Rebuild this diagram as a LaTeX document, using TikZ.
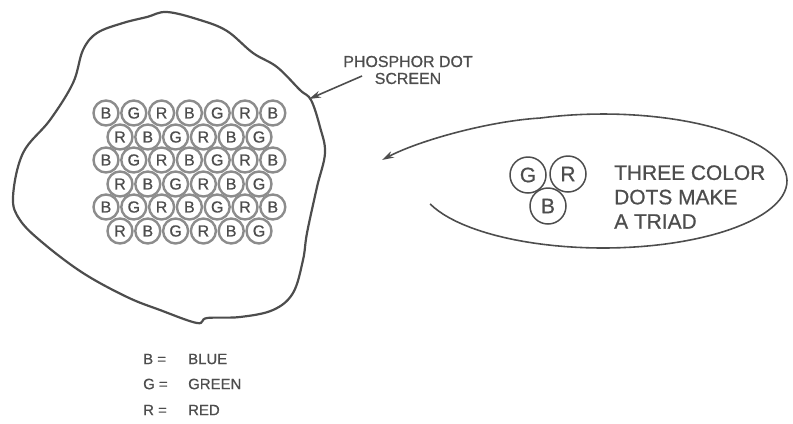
\documentclass[tikz,border=0pt]{standalone}
\usepackage{fontspec}
\setmainfont{Liberation Sans}[FakeBold=0.7]
\usetikzlibrary{arrows.meta}
\definecolor{ink}{HTML}{4D4D4D}
\definecolor{ring}{HTML}{8C8C8C}

\begin{document}
\begin{tikzpicture}[
  x=1bp, y=-1bp,
  text=ink,
  outline/.style={draw=ink, line width=2.2pt, line join=round},
  pointer/.style={-{Stealth[length=12bp,width=7bp]}, draw=ink, line width=1.6pt},
  dot/.style={
    circle,
    draw=ring,
    line width=2.4pt,
    fill=white,
    minimum size=25bp,
    inner sep=0pt,
    font=\fontsize{16}{16}\selectfont
  },
  tri/.style={
    circle,
    draw=ink,
    line width=1.5pt,
    minimum size=36bp,
    inner sep=0pt,
    font=\fontsize{21}{21}\selectfont
  },
  caption/.style={font=\fontsize{16}{17}\selectfont, align=center, inner sep=0pt},
  bigcaption/.style={font=\fontsize{21}{24.5}\selectfont, align=left, inner sep=0pt},
  legend/.style={font=\fontsize{15}{15}\selectfont, anchor=west, inner sep=0pt}
]
\useasboundingbox (0,0) rectangle (793,423);

% Screen outline
\draw[outline] plot[smooth cycle, tension=0.6] coordinates {
  (167,12) (200,20) (227,31) (253,53) (277,67) (300,90) (311,100)
  (320,127) (325,153) (317,187) (307,233) (303,260) (293,293)
  (273,310) (240,317) (207,318) (197,323) (160,310) (127,297)
  (83,273) (43,243) (20,220) (13,197) (23,153) (50,120) (73,83)
  (83,50) (97,33) (123,23) (147,17)};

% Phosphor dots
\foreach \row/\y in {1/113,3/160,5/207}
  \foreach \l [count=\i] in {B,G,R,B,G,R,B}
    \node[dot] (dot-\row-\i) at ({106+27.8*(\i-1)},\y) {\l};
\foreach \row/\y in {2/137,4/184,6/231}
  \foreach \l [count=\i] in {R,B,G,R,B,G}
    \node[dot] (dot-\row-\i) at ({120+27.8*(\i-1)},\y) {\l};

% Screen label
\node[caption] (screenlabel) at (408,70) {PHOSPHOR DOT\\SCREEN};
\coordinate (labeltail) at (362,76);
\coordinate (screenedge) at (309,99);
\draw[pointer] (labeltail) -- (screenedge);

% Triad callout
\node[tri] (triadG) at (528,175) {G};
\node[tri] (triadR) at (568,174) {R};
\node[tri] (triadB) at (548,206) {B};
\node[bigcaption, anchor=west] (triadtext) at (614,197) {THREE COLOR\\DOTS MAKE\\A TRIAD};

\coordinate (triadtip) at (382,160);
\draw[pointer]
  plot[domain=160:-110, samples=80] ({603+184*cos(\x)},{181+67*sin(\x)})
  .. controls (490,121) and (420,140) .. (triadtip);

% Legend
\node[legend] (keyB) at (143,359) {B =};
\node[legend] (keyG) at (143,384) {G =};
\node[legend] (keyR) at (143,410) {R =};
\node[legend] (valB) at (188,359) {BLUE};
\node[legend] (valG) at (188,384) {GREEN};
\node[legend] (valR) at (188,410) {RED};

\end{tikzpicture}
\end{document}
